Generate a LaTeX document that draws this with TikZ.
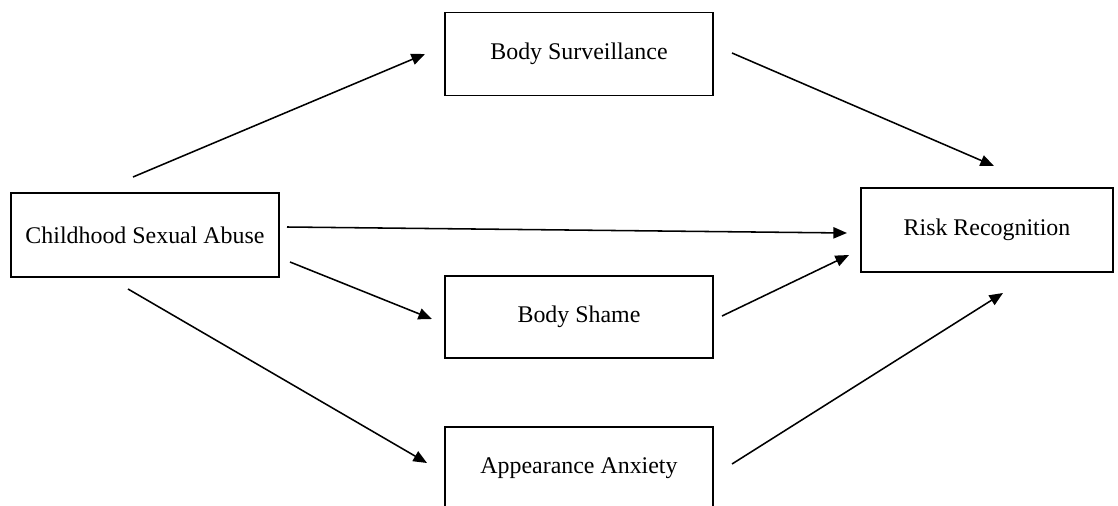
\documentclass[tikz,border=0pt]{standalone}
\usepackage{fontspec}
\setmainfont{Liberation Serif}
\usepackage{tikz}
\usetikzlibrary{positioning, arrows.meta}

\tikzset{
    factor/.style={rectangle, draw, line width=1.2pt, minimum width=268*0.025cm, minimum height=83*0.025cm, font=\fontsize{17}{20}\selectfont},
    path/.style={-{Triangle[length=3.4mm, width=2.8mm]}, line width=1.1pt}
}

\begin{document}
\begin{tikzpicture}[x=0.025cm, y=-0.025cm]
                \clip (0, 0) rectangle (1118, 506);
                \node[factor, minimum height=84*0.025cm] (CSA) at (145, 235) {Childhood Sexual Abuse};
                \node[factor] (BSurv) at (579, 54) {Body Surveillance};
                \node[factor, minimum height=82*0.025cm] (BShame) at (579, 317) {Body Shame};
                \node[factor] (AAnx) at (579, 468.5) {Appearance Anxiety};
                \node[factor, minimum width=252*0.025cm, minimum height=84*0.025cm] (RR) at (987, 230) {Risk Recognition};
                % free ends of the paths
                \coordinate (CSAa) at (133, 177);
                \coordinate (CSAb) at (287, 227);
                \coordinate (CSAc) at (290, 262);
                \coordinate (CSAd) at (128, 289);
                \coordinate (BSurvIn) at (425, 54);
                \coordinate (BShameIn) at (432, 319);
                \coordinate (AAnxIn) at (427, 463);
                \coordinate (BSurvOut) at (732, 53);
                \coordinate (BShameOut) at (722, 316);
                \coordinate (AAnxOut) at (732, 464);
                \coordinate (RRa) at (994, 166);
                \coordinate (RRb) at (847, 233);
                \coordinate (RRc) at (849, 255);
                \coordinate (RRd) at (1003, 293);
                \draw[path] (CSAa) -- (BSurvIn);
                \draw[path] (CSAb) -- (RRb);
                \draw[path] (CSAc) -- (BShameIn);
                \draw[path] (CSAd) -- (AAnxIn);
                \draw[path] (BSurvOut) -- (RRa);
                \draw[path] (BShameOut) -- (RRc);
                \draw[path] (AAnxOut) -- (RRd);
            \end{tikzpicture}
\end{document}
